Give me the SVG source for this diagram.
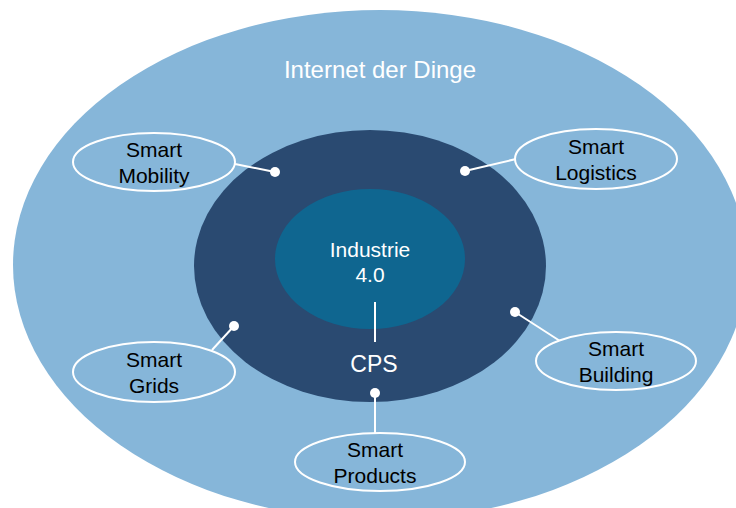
<svg xmlns="http://www.w3.org/2000/svg" width="736" height="508" viewBox="0 0 736 508">
<style>
.bub{fill:#86B6D9;stroke:#FFFFFF;stroke-width:2}
.lbl{font-family:"Liberation Sans",Arial,sans-serif;font-size:21px;fill:#000000;text-anchor:middle}
.wl{font-family:"Liberation Sans",Arial,sans-serif;fill:#FFFFFF;text-anchor:middle}
.con{stroke:#FFFFFF;stroke-width:2;fill:none}
.dot{fill:#FFFFFF}
</style>
<rect width="736" height="508" fill="#FFFFFF"/>
<g id="internet">
<ellipse cx="380" cy="265" rx="367" ry="255" fill="#86B6D9"/>
<text class="wl" x="380" y="78" font-size="24">Internet der Dinge</text>
</g>
<g id="cps">
<ellipse cx="370" cy="266" rx="176" ry="136" fill="#2A4A71"/>
<text class="wl" x="374" y="372" font-size="23">CPS</text>
</g>
<g id="industrie">
<ellipse cx="370" cy="259" rx="95" ry="70" fill="#0F6690"/>
<text class="wl" x="370" y="257" font-size="21">Industrie</text>
<text class="wl" x="370" y="282" font-size="21">4.0</text>
</g>
<g id="connectors">
<line class="con" x1="375" y1="302" x2="375" y2="342"/>
<line class="con" x1="235" y1="164" x2="275" y2="172"/>
<circle class="dot" cx="275" cy="172" r="5"/>
<line class="con" x1="516" y1="159" x2="465" y2="171"/>
<circle class="dot" cx="465" cy="171" r="5"/>
<line class="con" x1="212" y1="350" x2="234" y2="326"/>
<circle class="dot" cx="234" cy="326" r="5"/>
<line class="con" x1="560" y1="341" x2="515" y2="312"/>
<circle class="dot" cx="515" cy="312" r="5"/>
<line class="con" x1="375" y1="433" x2="375" y2="393"/>
<circle class="dot" cx="375" cy="393" r="5"/>
</g>
<g id="smart-mobility">
<ellipse class="bub" cx="154" cy="162" rx="81" ry="29"/>
<text class="lbl" x="154" y="157">Smart</text>
<text class="lbl" x="154" y="183">Mobility</text>
</g>
<g id="smart-logistics">
<ellipse class="bub" cx="596" cy="159" rx="81" ry="30"/>
<text class="lbl" x="596" y="154">Smart</text>
<text class="lbl" x="596" y="180">Logistics</text>
</g>
<g id="smart-grids">
<ellipse class="bub" cx="154" cy="372" rx="81" ry="30"/>
<text class="lbl" x="154" y="367">Smart</text>
<text class="lbl" x="154" y="393">Grids</text>
</g>
<g id="smart-building">
<ellipse class="bub" cx="616" cy="361" rx="80" ry="29"/>
<text class="lbl" x="616" y="356">Smart</text>
<text class="lbl" x="616" y="382">Building</text>
</g>
<g id="smart-products">
<ellipse class="bub" cx="380" cy="462" rx="85" ry="29"/>
<text class="lbl" x="375" y="457">Smart</text>
<text class="lbl" x="375" y="483">Products</text>
</g>
</svg>
